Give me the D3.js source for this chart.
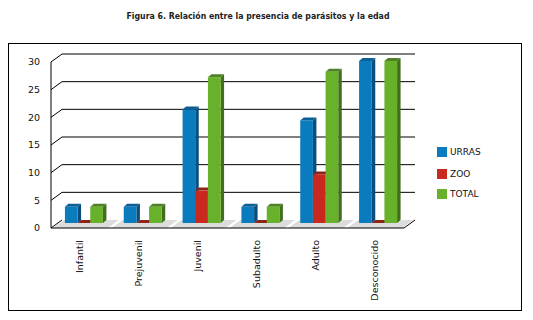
<!DOCTYPE html>
<html><head><meta charset="utf-8">
<script src="https://cdnjs.cloudflare.com/ajax/libs/d3/7.8.5/d3.min.js"></script>
<style>body{margin:0;background:#fff}svg{display:block}</style>
</head><body>
<script>
const categories = ["Infantil","Prejuvenil","Juvenil","Subadulto","Adulto","Desconocido"];
const seriesNames = ["URRAS","ZOO","TOTAL"];
const urras = [3,3,21,3,19,30];
const zoo = [0,0,6,0,9,0];
const total = [3,3,27,3,28,30];
const yTicks = [0,5,10,15,20,25,30];
const titleText = "Figura 6. Relación entre la presencia de parásitos y la edad";

const values = [urras, zoo, total];
const colors = [
  {front:"#0a7bbd", side:"#0a4d7e", top:"#0b5f95"},
  {front:"#c8281d", side:"#7c1a12", top:"#8e2418"},
  {front:"#68b12b", side:"#416f1c", top:"#4e8224"}
];

const W=533,H=320;
const svg=d3.select("body").append("svg").attr("width",W).attr("height",H);

svg.append("text").attr("x",258).attr("y",19).attr("text-anchor","middle")
  .attr("font-family","DejaVu Sans").attr("font-weight","bold").attr("font-size",8.5)
  .attr("textLength",263).attr("lengthAdjust","spacingAndGlyphs").attr("fill","#222").text(titleText);

svg.append("rect").attr("x",8.5).attr("y",43.5).attr("width",513).attr("height",267)
  .attr("fill","none").attr("stroke","#000").attr("stroke-width",1);

const wx=11, wy=-8; // wall depth offset
const bx=3.5, by=-3; // bar depth offset
const x0=51, x1=404;
const yA=d3.scaleLinear().domain([0,30]).range([228,62]);
const yB=d3.scaleLinear().domain([0,30]).range([223,61]);
const xBand=d3.scaleBand().domain(categories).range([x0,x1]).padding(0);
const xInner=d3.scaleBand().domain(seriesNames).range([0,38]).padding(0);

// floor strips
const g=svg.append("g");
categories.forEach((c,i)=>{
  const a=xBand(c)+2, b=xBand(c)+xBand.bandwidth()-2;
  g.append("path").attr("d",`M${a},${yA(0)}L${b},${yA(0)}L${b+wx},${yA(0)+wy}L${a+wx},${yA(0)+wy}Z`)
    .attr("fill","#dcdcdc");
});
// gridlines on back wall + diagonals
yTicks.forEach(t=>{
  const yb=yA(t)+wy;
  if(t>0) g.append("line").attr("x1",x0+wx).attr("x2",x1+wx).attr("y1",yb).attr("y2",yb).attr("stroke","#000").attr("stroke-width",1);
  g.append("line").attr("x1",x0).attr("y1",yA(t)).attr("x2",x0+wx).attr("y2",yb).attr("stroke","#000").attr("stroke-width",1);
});
// front axis lines
g.append("line").attr("x1",x0).attr("x2",x0).attr("y1",yA(30)).attr("y2",yA(0)).attr("stroke","#000");
g.append("line").attr("x1",x0).attr("x2",x1).attr("y1",yA(0)).attr("y2",yA(0)).attr("stroke","#000");
g.append("line").attr("x1",x1).attr("y1",yA(0)).attr("x2",x1+wx).attr("y2",yA(0)+wy).attr("stroke","#000");

// y labels
svg.append("g").selectAll("text").data(yTicks).join("text")
  .attr("x",40).attr("y",d=>yA(d)).attr("dy","0.35em").attr("text-anchor","end")
  .attr("font-family","DejaVu Sans").attr("font-size",9.5).attr("fill","#111").text(d=>d);

// bars
const bars=svg.append("g");
categories.forEach((c,i)=>{
  const cx=xBand(c)+xBand.bandwidth()/2;
  seriesNames.forEach((s,j)=>{
    const v=values[j][i];
    const xl=cx-15.5+xInner(s), w=xInner.bandwidth();
    const yt=yB(v), yb=yB(0);
    const col=colors[j];
    const h=Math.max(yb-yt,0);
    // side
    bars.append("path").attr("d",`M${xl+w},${yt}L${xl+w+bx},${yt+by}L${xl+w+bx},${yb+by}L${xl+w},${yb}Z`).attr("fill",col.side);
    // top
    bars.append("path").attr("d",`M${xl},${yt}L${xl+bx},${yt+by}L${xl+w+bx},${yt+by}L${xl+w},${yt}Z`).attr("fill",col.top);
    // front
    bars.append("rect").attr("x",xl).attr("y",yt).attr("width",w).attr("height",h).attr("fill",col.front);
  });
});

// x labels
svg.append("g").selectAll("text").data(categories).join("text")
  .attr("transform",d=>`translate(${xBand(d)+xBand.bandwidth()/2+3},240) rotate(-90)`)
  .attr("text-anchor","end").attr("font-family","DejaVu Sans").attr("font-size",9.5).attr("fill","#111")
  .text(d=>d);

// legend
const lg=svg.append("g");
const ly=[152,174,194];
seriesNames.forEach((s,j)=>{
  lg.append("rect").attr("x",437).attr("y",ly[j]-5).attr("width",10).attr("height",10).attr("fill",colors[j].front);
  lg.append("text").attr("x",450).attr("y",ly[j]).attr("dy","0.35em").attr("font-family","DejaVu Sans")
    .attr("font-size",9).attr("fill","#111").text(s);
});
</script>
</body></html>
